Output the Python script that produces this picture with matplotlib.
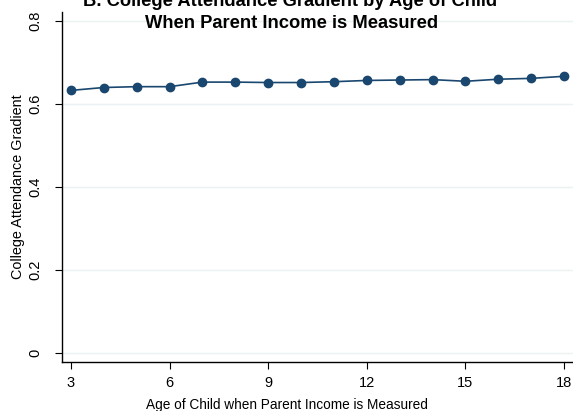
import matplotlib
matplotlib.use("Agg")
import matplotlib.pyplot as plt

# age of child when parent income is measured
ages = [3, 4, 5, 6, 7, 8, 9, 10, 11, 12, 13, 14, 15, 16, 17, 18]
gradient = [0.633, 0.640, 0.642, 0.642, 0.653, 0.653, 0.652, 0.652,
            0.654, 0.657, 0.658, 0.659, 0.655, 0.660, 0.662, 0.667]

x_ticks = [3, 6, 9, 12, 15, 18]
y_ticks = [0, 0.2, 0.4, 0.6, 0.8]
y_tick_labels = ["0", "0.2", "0.4", "0.6", "0.8"]

plt.rcParams["font.family"] = ["Liberation Sans", "DejaVu Sans"]

navy = "#1a476f"

fig = plt.figure(figsize=(5.73, 4.11), dpi=100)
ax = fig.add_axes([62 / 573, 1 - 362 / 411, 1 - 62 / 573, (362 - 12) / 411])

ax.plot(ages, gradient, color=navy, lw=1.2, marker="o", ms=6,
        markerfacecolor=navy, markeredgecolor=navy, zorder=3)

ax.set_xlim(2.73, 18.27)
ax.set_ylim(-0.0217, 0.822)
ax.set_xticks(x_ticks)
ax.set_yticks(y_ticks)
ax.set_yticklabels(y_tick_labels, rotation=90, va="center")

for y in y_ticks:
    ax.axhline(y, color="#eaf2f3", lw=1.0, zorder=1)

for side in ["top", "right"]:
    ax.spines[side].set_visible(False)
ax.spines["left"].set_linewidth(1.0)
ax.spines["bottom"].set_linewidth(1.0)
ax.tick_params(direction="out", length=5, width=0.8, labelsize=10.5)
ax.tick_params(axis="x", pad=5)
ax.tick_params(axis="y", pad=9)

ax.set_xlabel("Age of Child when Parent Income is Measured", fontsize=9.8)
ax.xaxis.set_label_coords((287 - 62) / (573 - 62), -(405 - 362) / 350, transform=ax.transAxes)
ax.xaxis.label.set_va("center")
ax.set_ylabel("College Attendance Gradient", fontsize=10.4)
ax.yaxis.set_label_coords(-(62 - 18) / 511, 0.5, transform=ax.transAxes)
ax.yaxis.label.set_va("center")

# two-line title, first line runs off the top as in the original
fig.text(290 / 573, 1 - 1 / 411, "B. College Attendance Gradient by Age of Child",
         ha="center", va="center", fontsize=13.2, fontweight="bold")
fig.text(292 / 573, 1 - 23.5 / 411, "When Parent Income is Measured",
         ha="center", va="center", fontsize=13.2, fontweight="bold")

fig.savefig("out.png", dpi=100)
